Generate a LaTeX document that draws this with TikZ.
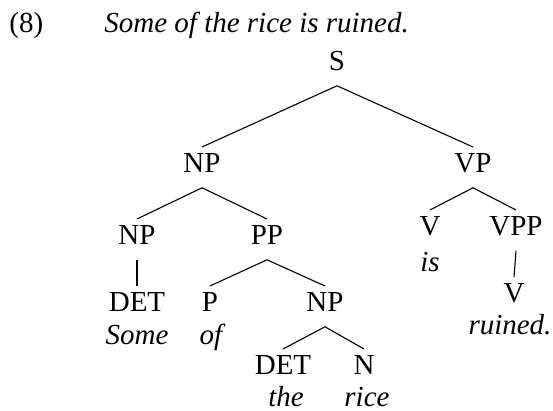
\documentclass[tikz,border=0pt]{standalone}
\usepackage{fontspec}
\setmainfont{Liberation Serif}
\usepackage{tikz}
\newcommand{\treefont}{\fontsize{14.5}{17}\selectfont}
\tikzset{cat/.style={anchor=base, font=\treefont, text height=9.6pt, text depth=4pt, inner ysep=3.2pt, inner xsep=0pt}}
\tikzset{word/.style={anchor=base, font=\treefont\itshape, inner sep=0pt}}
\tikzset{branch/.style={line width=0.55pt}}

\begin{document}
\begin{tikzpicture}[x=0.5pt, y=-0.5pt]
      \useasboundingbox (0, 0) rectangle (553, 411);

      % example line
      \node[word, anchor=base west, font=\treefont] (ex) at (9, 33) {(8)};
      \node[word, anchor=base west] (sent) at (104, 33) {Some of the rice is ruined.};

      % categories
      \node[cat] (S) at (337, 71) {S};
      \node[cat] (NP1) at (202, 173) {NP};
      \node[cat] (VP) at (473, 173) {VP};
      \node[cat] (NP2) at (137, 245) {NP};
      \node[cat] (PP) at (267, 245) {PP};
      \node[cat] (V1) at (430, 236) {V};
      \node[cat] (VPP) at (516, 236) {VPP};
      \node[cat] (DET1) at (137, 312) {DET};
      \node[cat] (P) at (210, 312) {P};
      \node[cat] (NP3) at (325, 312) {NP};
      \node[cat] (V2) at (514, 303) {V};
      \node[cat] (DET2) at (283, 375) {DET};
      \node[cat] (N) at (364, 375) {N};

      % words
      \node[word] (w1) at (137, 345) {Some};
      \node[word] (w2) at (211, 345) {of};
      \node[word] (w3) at (286, 407) {the};
      \node[word] (w4) at (367, 407) {rice};
      \node[word] (w5) at (430, 272) {is};
      \node[word] (w6) at (510, 335) {ruined.};

      \draw[branch] (NP1.north) -- (S.south) -- (VP.north);
      \draw[branch] (NP2.north) -- (NP1.south) -- (PP.north);
      \draw[branch] (V1.north) -- (VP.south) -- (VPP.north);
      \draw[branch] (NP2.south) -- (DET1.north);
      \draw[branch] (P.north) -- (PP.south) -- (NP3.north);
      \draw[branch] (VPP.south) -- (V2.north);
      \draw[branch] (DET2.north) -- (NP3.south) -- (N.north);
\end{tikzpicture}
\end{document}
